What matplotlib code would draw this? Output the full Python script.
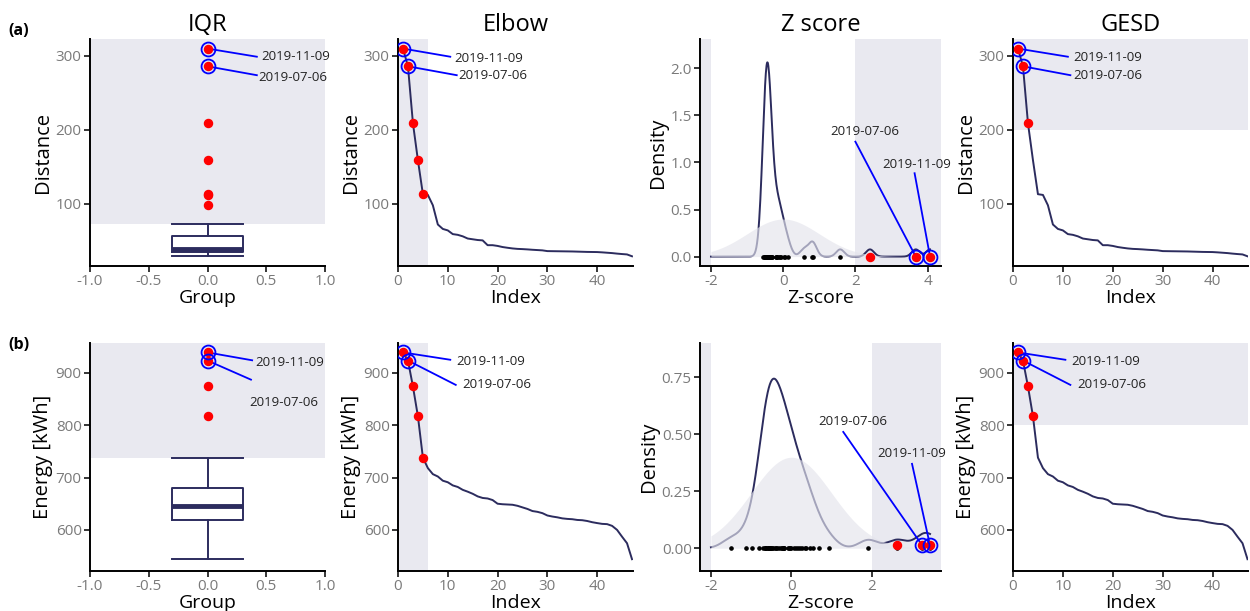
import numpy as np
import matplotlib
matplotlib.use("Agg")
import matplotlib.pyplot as plt

plt.rcParams['font.family'] = ['Open Sans', 'DejaVu Sans']
plt.rcParams['axes.unicode_minus'] = False

# ---------------- data ----------------
distance = [310, 286, 209, 159, 113, 112, 98, 72, 66, 64, 59, 58, 56, 53, 52, 51,
            50.5, 44, 44, 43, 41.5, 40.5, 39.6, 39, 38.7, 38.3, 37.8, 37.4, 37, 36,
            35.9, 35.8, 35.7, 35.6, 35.5, 35.3, 35.1, 34.9, 34.8, 34.7, 34.3, 33.8,
            33.3, 32.6, 32, 31.5, 29]
energy = [939, 923.5, 874, 817, 738, 718, 706.5, 702, 694, 691, 685, 682, 676.5,
          673, 669, 664, 661, 660, 657, 650, 649, 648.5, 648, 646, 643, 640, 636,
          634.5, 632, 627.5, 625.5, 624, 622, 621, 620.4, 619, 618.5, 617, 614.7,
          613, 611.5, 611, 607.7, 600, 587, 574.5, 544]
labels = ["2019-11-09", "2019-07-06"]
row_ylabels = ["Distance", "Energy [kWh]"]
titles = ["IQR", "Elbow", "Z score", "GESD"]
row_yticks = [[100, 200, 300], [600, 700, 800, 900]]
elbow_cut = [6, 6]          # elbow shaded up to index
gesd_threshold = [200, 800]
gesd_n = [3, 4]
elbow_n = [5, 5]

NAVY = "#2c2c5e"
SHADE = "#e9e9f0"
TICKC = "#7a7a7a"

fig = plt.figure(figsize=(12.5, 6.11), dpi=100)

cols_left = [0.072, 0.3184, 0.56, 0.8104]
cols_w = [0.188, 0.188, 0.1928, 0.188]
row_bottom = [0.5646, 0.0655]
row_h = [0.3716, 0.3731]
ylims = [(15.8, 323), (521.5, 957)]

# label placements: (line end x, line end y, text x, text y) per row per panel
iqr_lab = [[(0.42, 299, 0.46, 299), (0.42, 274, 0.43, 271)],
           [(0.38, 924, 0.405, 919), (0.37, 887, 0.36, 844)]]
elb_lab = [[(10.5, 299, 11.4, 297), (11.8, 274, 12.2, 274)],
           [(10.5, 925, 11.7, 921), (11.6, 877, 13.0, 877)]]
ges_lab = [[(11.0, 299, 12.1, 298), (11.5, 274, 12.1, 274)],
           [(10.5, 925, 11.7, 921), (11.5, 877, 12.8, 877)]]
# z: (line start x, y, text center x, y)
z_lab = [[(3.64, 0.885, 3.71, 0.98), (2.0, 1.22, 2.25, 1.33)],
         [(3.0, 0.37, 3.0, 0.415), (1.29, 0.51, 1.53, 0.555)]]
z_ylims = [(-0.1, 2.31), (-0.1, 0.9)]
z_yticks = [([0, 0.5, 1.0, 1.5, 2.0], ["0.0", "0.5", "1.0", "1.5", "2.0"]),
            ([0, 0.25, 0.5, 0.75], ["0.00", "0.25", "0.50", "0.75"])]
z_dot_y = [0.0, 0.012]


def style(ax):
    for s in ["top", "right"]:
        ax.spines[s].set_visible(False)
    for s in ["left", "bottom"]:
        ax.spines[s].set_linewidth(1.4)
        ax.spines[s].set_color("black")
    ax.tick_params(axis="both", colors="black", labelcolor=TICKC, labelsize=11,
                   length=4, width=1.1, pad=2)
    ax.xaxis.label.set_size(14)
    ax.yaxis.label.set_size(14.5)


def ring(ax, x, y):
    ax.plot(x, y, "o", ms=10, mfc="none", mec="blue", mew=1.3, zorder=6)


def kde(z, grid):
    z = np.asarray(z)
    n = len(z)
    q75, q25 = np.percentile(z, [75, 25])
    bw = 0.9 * min(np.std(z, ddof=1), (q75 - q25) / 1.34) * n ** (-0.2)
    d = (grid[:, None] - z[None, :]) / bw
    return np.exp(-0.5 * d ** 2).sum(axis=1) / (n * bw * np.sqrt(2 * np.pi))


RED_MS = 5.8

for r, vals in enumerate([distance, energy]):
    vals = np.array(vals)
    idx = np.arange(1, len(vals) + 1)
    axs = [fig.add_axes([cols_left[c], row_bottom[r], cols_w[c], row_h[r]]) for c in range(4)]

    # ---- IQR ----
    ax = axs[0]
    q1, q3 = np.percentile(vals, [25, 75])
    fence = q3 + 1.5 * (q3 - q1)
    whis_top = vals[vals <= fence].max()
    ax.axhspan(whis_top, ylims[r][1], xmin=0, xmax=1, color=SHADE, lw=0, zorder=0)
    ax.boxplot(vals, positions=[0], widths=0.6, whis=1.5, showfliers=False,
               boxprops=dict(color=NAVY, lw=1.4), whiskerprops=dict(color=NAVY, lw=1.4),
               capprops=dict(color=NAVY, lw=1.4), medianprops=dict(color=NAVY, lw=3.5),
               capwidths=0.6, manage_ticks=False)
    out = vals[vals > fence]
    ax.plot(np.zeros(len(out)), out, "o", color="red", ms=RED_MS, zorder=5)
    for k in range(2):
        ring(ax, 0, vals[k])
        lx, ly, tx, ty = iqr_lab[r][k]
        ax.plot([0, lx], [vals[k], ly], color="blue", lw=1.3, zorder=4)
        ax.text(tx, ty, labels[k], fontsize=9.5, va="center", ha="left", color="#222222")
    ax.set_xlim(-1, 1)
    ax.set_xticks([-1, -0.5, 0, 0.5, 1])
    ax.set_xticklabels(["-1.0", "-0.5", "0.0", "0.5", "1.0"])
    ax.set_ylim(*ylims[r])
    ax.set_yticks(row_yticks[r])
    ax.set_xlabel("Group", labelpad=0)
    ax.set_ylabel(row_ylabels[r], labelpad=2)

    # ---- Elbow & GESD ----
    for ax, n_red, labs, xmax_ in [(axs[1], elbow_n[r], elb_lab, 47.2), (axs[3], gesd_n[r], ges_lab, 47.1)]:
        if ax is axs[1]:
            ax.axvspan(0, elbow_cut[r], color=SHADE, lw=0, zorder=0)
        else:
            ax.axhspan(gesd_threshold[r], ylims[r][1], color=SHADE, lw=0, zorder=0)
        ax.plot(idx, vals, color=NAVY, lw=1.4, zorder=3)
        ax.plot(idx[:n_red], vals[:n_red], "o", color="red", ms=RED_MS, zorder=5)
        for k in range(2):
            ring(ax, idx[k], vals[k])
            lx, ly, tx, ty = labs[r][k]
            ax.plot([idx[k], lx], [vals[k], ly], color="blue", lw=1.3, zorder=4)
            ax.text(tx, ty, labels[k], fontsize=9.5, va="center", ha="left", color="#222222")
        ax.set_xlim(0, xmax_)
        ax.set_xticks([0, 10, 20, 30, 40])
        ax.set_ylim(*ylims[r])
        ax.set_yticks(row_yticks[r])
        ax.set_xlabel("Index", labelpad=0)
        ax.set_ylabel(row_ylabels[r], labelpad=2)

    # ---- Z score ----
    ax = axs[2]
    z = (vals - vals.mean()) / vals.std(ddof=1)
    zmax = z.max()
    span = zmax + 2
    xl = (-2 - 0.05 * span, zmax + 0.05 * span)
    ax.axvspan(xl[0], -2, color=SHADE, lw=0, zorder=0)
    ax.axvspan(2, xl[1], color=SHADE, lw=0, zorder=0)
    grid = np.linspace(-2, zmax, 600)
    ax.plot(grid, kde(z, grid), color=NAVY, lw=1.4, zorder=2)
    ax.fill_between(grid, 0, np.exp(-0.5 * grid ** 2) / np.sqrt(2 * np.pi),
                    color="#e4e4ec", alpha=0.65, lw=0, zorder=3)
    ax.plot(z, np.zeros_like(z), "o", color="black", ms=2.3, zorder=4)
    zo = z[z > 2]
    ax.plot(zo, np.full(len(zo), z_dot_y[r]), "o", color="red", ms=RED_MS, zorder=5)
    for k in range(2):
        ring(ax, z[k], z_dot_y[r])
        lx, ly, tx, ty = z_lab[r][k]
        ax.plot([lx, z[k]], [ly, z_dot_y[r]], color="blue", lw=1.3, zorder=4)
        ax.text(tx, ty, labels[k], fontsize=9.5, va="center", ha="center", color="#222222")
    ax.set_xlim(*xl)
    ax.set_ylim(*z_ylims[r])
    ax.set_xticks([-2, 0, 2, 4] if zmax > 4 else [-2, 0, 2])
    ax.set_yticks(z_yticks[r][0])
    ax.set_yticklabels(z_yticks[r][1])
    ax.set_xlabel("Z-score", labelpad=0)
    ax.set_ylabel("Density", labelpad=2)

    for c, ax in enumerate(axs):
        style(ax)
        if r == 0:
            ax.set_title(titles[c], fontsize=17, pad=6)

fig.text(0.007, 0.943, "(a)", fontsize=11.5, fontweight="bold")
fig.text(0.007, 0.428, "(b)", fontsize=11.5, fontweight="bold")

fig.savefig("out.png", dpi=100)
